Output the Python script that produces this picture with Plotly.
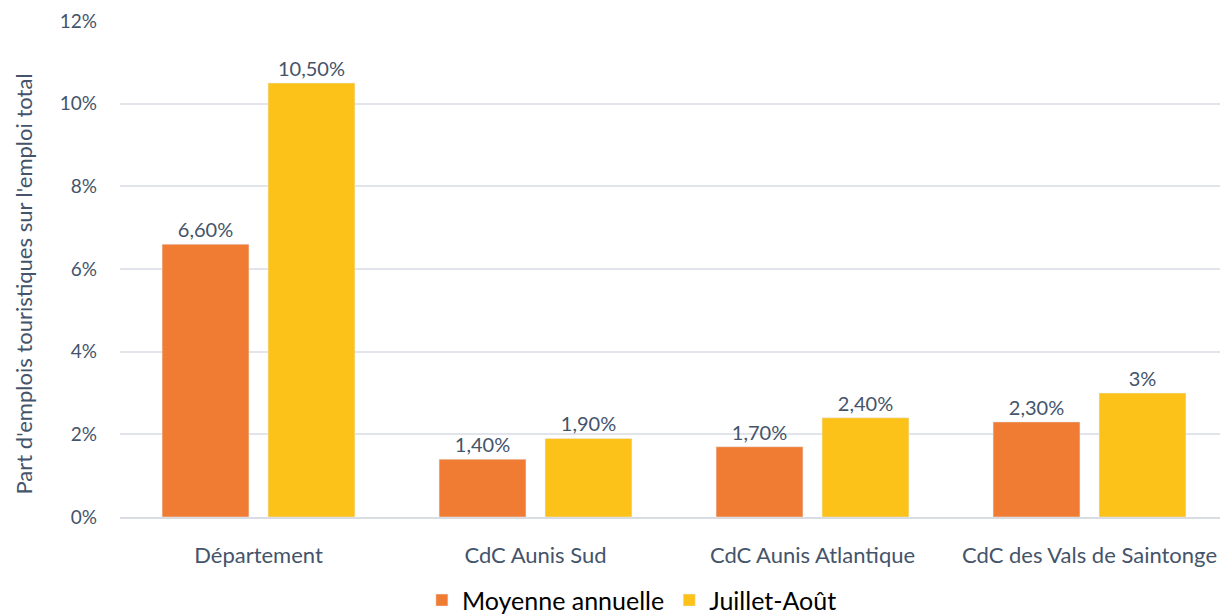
import plotly.graph_objects as go

categories = ["Département", "CdC Aunis Sud", "CdC Aunis Atlantique", "CdC des Vals de Saintonge"]
moyenne_annuelle = [6.6, 1.4, 1.7, 2.3]
juillet_aout = [10.5, 1.9, 2.4, 3.0]
y_ticks = [0, 2, 4, 6, 8, 10, 12]

TEXT = "#44546A"
FONT = "Lato, 'Open Sans', sans-serif"


def fr_label(v):
    # "6,60%" style, but whole numbers shown as "3%"
    if float(v).is_integer():
        return f"{int(v)}%"
    return f"{v:.2f}".replace(".", ",") + "%"


fig = go.Figure()
fig.add_trace(go.Bar(
    x=categories, y=moyenne_annuelle, name="Moyenne annuelle",
    marker=dict(color="#EF7C32"),
    text=[fr_label(v) for v in moyenne_annuelle], textposition="outside",
    textfont=dict(color=TEXT, size=20), cliponaxis=False,
))
fig.add_trace(go.Bar(
    x=categories, y=juillet_aout, name="Juillet-Août",
    marker=dict(color="#FCC21A"),
    text=[fr_label(v) for v in juillet_aout], textposition="outside",
    textfont=dict(color=TEXT, size=20), cliponaxis=False,
))

fig.add_annotation(
    text="Part d'emplois touristiques sur l'emploi total",
    textangle=-90, xref="paper", yref="paper",
    x=-0.087, y=0.47, xanchor="center", yanchor="middle",
    showarrow=False, font=dict(size=22, color=TEXT),
)

# page body has an 8px margin, so the figure is a bit smaller than the window
fig.update_layout(
    width=1220, height=607,
    margin=dict(l=112, r=0, t=13, b=98, autoexpand=False),
    paper_bgcolor="white", plot_bgcolor="white",
    font=dict(family=FONT, color=TEXT, size=20),
    barmode="group", bargap=0.235, bargroupgap=0.18,
    separators=", ",
    legend=dict(
        orientation="h", xref="paper", yref="paper",
        x=0.462, xanchor="center", y=-0.168, yanchor="middle",
        font=dict(color="black", size=25),
        itemwidth=30, traceorder="normal",
    ),
    xaxis=dict(
        showgrid=False, showline=True, linecolor="#D9DDE3", linewidth=2,
        tickfont=dict(size=22, color=TEXT), ticks="", ticklabelstandoff=18,
        automargin=False,
    ),
    yaxis=dict(
        range=[0, 12], tickvals=y_ticks, ticktext=[f"{v}%" for v in y_ticks],
        gridcolor="#E1E5EB", gridwidth=2, zeroline=False,
        tickfont=dict(size=19, color=TEXT), ticklabelstandoff=22,
        automargin=False,
    ),
)

fig.write_html("out.html")
